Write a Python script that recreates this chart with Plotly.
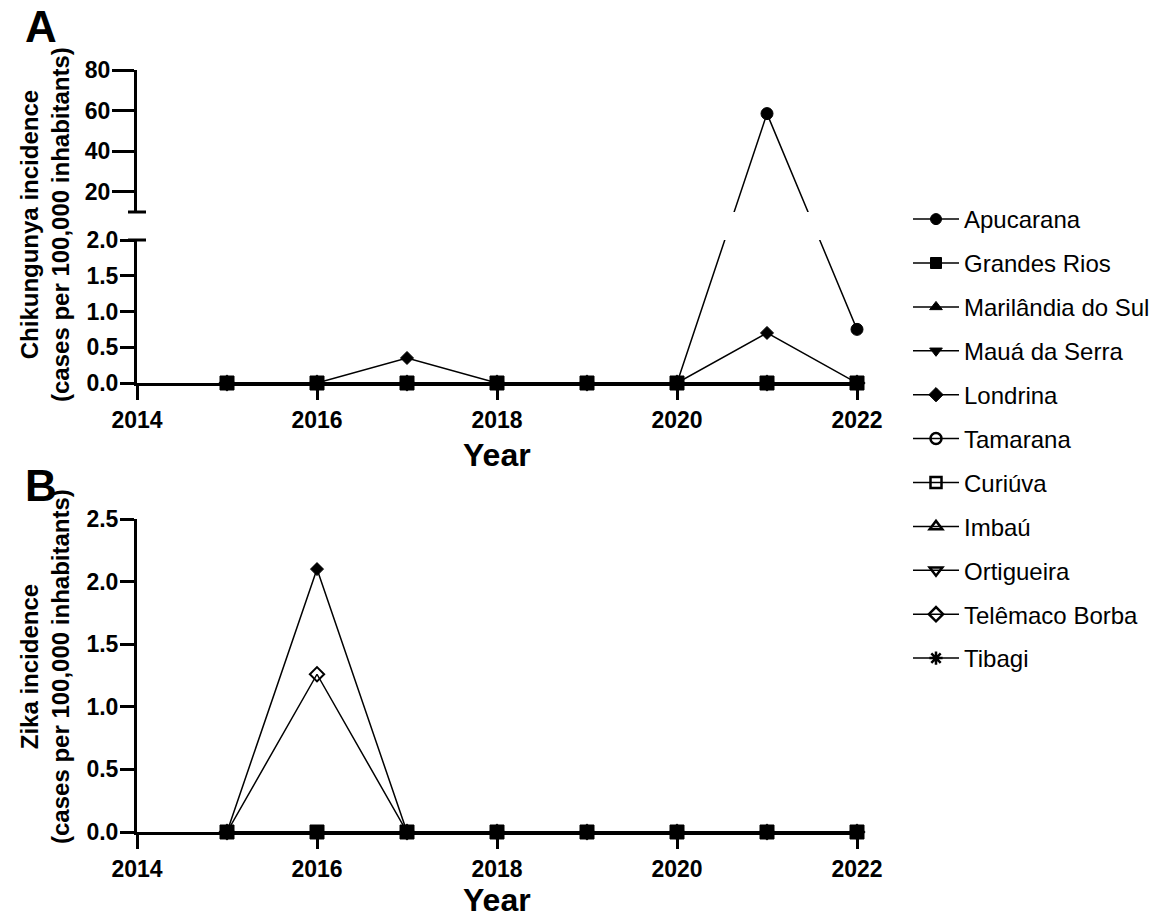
import plotly.graph_objects as go

# ---------------- data ----------------
years = [2015, 2016, 2017, 2018, 2019, 2020, 2021, 2022]
municipalities = ["Apucarana", "Grandes Rios", "Marilândia do Sul", "Mauá da Serra",
                  "Londrina", "Tamarana", "Curiúva", "Imbaú", "Ortigueira",
                  "Telêmaco Borba", "Tibagi"]
chik = {
    "Apucarana":         [0, 0, 0, 0, 0, 0, 58.5, 0.75],
    "Grandes Rios":      [0, 0, 0, 0, 0, 0, 0, 0],
    "Marilândia do Sul": [0, 0, 0, 0, 0, 0, 0, 0],
    "Mauá da Serra":     [0, 0, 0, 0, 0, 0, 0, 0],
    "Londrina":          [0, 0, 0.35, 0, 0, 0, 0.70, 0],
    "Tamarana":          [0, 0, 0, 0, 0, 0, 0, 0],
    "Curiúva":           [0, 0, 0, 0, 0, 0, 0, 0],
    "Imbaú":             [0, 0, 0, 0, 0, 0, 0, 0],
    "Ortigueira":        [0, 0, 0, 0, 0, 0, 0, 0],
    "Telêmaco Borba":    [0, 0, 0, 0, 0, 0, 0, 0],
    "Tibagi":            [0, 0, 0, 0, 0, 0, 0, 0],
}
zika = {
    "Apucarana":         [0, 0, 0, 0, 0, 0, 0, 0],
    "Grandes Rios":      [0, 0, 0, 0, 0, 0, 0, 0],
    "Marilândia do Sul": [0, 0, 0, 0, 0, 0, 0, 0],
    "Mauá da Serra":     [0, 0, 0, 0, 0, 0, 0, 0],
    "Londrina":          [0, 2.10, 0, 0, 0, 0, 0, 0],
    "Tamarana":          [0, 0, 0, 0, 0, 0, 0, 0],
    "Curiúva":           [0, 0, 0, 0, 0, 0, 0, 0],
    "Imbaú":             [0, 0, 0, 0, 0, 0, 0, 0],
    "Ortigueira":        [0, 0, 0, 0, 0, 0, 0, 0],
    "Telêmaco Borba":    [0, 1.26, 0, 0, 0, 0, 0, 0],
    "Tibagi":            [0, 0, 0, 0, 0, 0, 0, 0],
}
x_ticks = [2014, 2016, 2018, 2020, 2022]
upper_ticks = [20, 40, 60, 80]

# ---------------- styles ----------------
symbols = {
    "Apucarana": ("circle", 12), "Grandes Rios": ("square", 14),
    "Marilândia do Sul": ("triangle-up", 11), "Mauá da Serra": ("triangle-down", 11),
    "Londrina": ("diamond", 10), "Tamarana": ("circle-open", 10),
    "Curiúva": ("square-open", 10), "Imbaú": ("triangle-up-open", 10),
    "Ortigueira": ("triangle-down-open", 10), "Telêmaco Borba": ("diamond-open", 11),
    "Tibagi": ("asterisk-open", 10),
}
LEGEND_MARKER = 11
# draw order: Grandes Rios last so the squares sit on top at zero
draw_order = [m for m in municipalities if m != "Grandes Rios"] + ["Grandes Rios"]

W, H = 1165, 920
FONT = "Liberation Sans, Arial, sans-serif"
x_dom = [137 / W, 857 / W]
lowA_dom = [1 - 383 / H, 1 - 240 / H]; lowA_rng = [0, 2]
upA_dom = [1 - 212 / H, 1 - 70 / H]; upA_rng = [10, 80]
B_dom = [1 - 832 / H, 1 - 519 / H]; B_rng = [0, 2.5]


def to_paper(v):
    if v <= lowA_rng[1]:
        d, r = lowA_dom, lowA_rng
    else:
        d, r = upA_dom, upA_rng
    return d[0] + (v - r[0]) / (r[1] - r[0]) * (d[1] - d[0])


def to_axis(v, d, r):
    """Express value v in the linear extension of a broken-axis segment."""
    p = to_paper(v)
    return r[0] + (p - d[0]) / (d[1] - d[0]) * (r[1] - r[0])


def marker(sym, size):
    return dict(symbol=sym, size=size, color="black", opacity=1,
                line=dict(color="black", width=2 if "open" in sym else 1))


LINE = dict(color="black", width=1.5)
fig = go.Figure()
for m in draw_order:
    sym, size = symbols[m]
    vals = chik[m]
    # lower segment of panel A
    low = [to_axis(v, lowA_dom, lowA_rng) for v in vals]
    low_sizes = [size if v <= lowA_rng[1] else 0 for v in vals]
    fig.add_trace(go.Scatter(
        x=years, y=low, mode="lines+markers", name=m, legendgroup=m,
        showlegend=False, cliponaxis=False, line=LINE,
        marker=dict(marker(sym, size), size=low_sizes),
        xaxis="x", yaxis="y"))
    # upper segment of panel A
    if max(vals) > lowA_rng[1]:
        up = [to_axis(v, upA_dom, upA_rng) for v in vals]
        fig.add_trace(go.Scatter(
            x=years, y=up, mode="lines+markers", name=m, legendgroup=m,
            showlegend=False, cliponaxis=True, line=LINE, marker=marker(sym, size),
            xaxis="x", yaxis="y2"))
    # panel B
    fig.add_trace(go.Scatter(
        x=years, y=zika[m], mode="lines+markers", name=m, legendgroup=m,
        showlegend=False, cliponaxis=False, line=LINE, marker=marker(sym, size),
        xaxis="x2", yaxis="y3"))

# legend entries (smaller symbols, as in the reference key)
for i, m in enumerate(municipalities):
    sym, _ = symbols[m]
    fig.add_trace(go.Scatter(
        x=[None], y=[None], mode="lines+markers", name=m, legendgroup=m,
        legendrank=i + 1, showlegend=True, line=LINE,
        marker=dict(marker(sym, LEGEND_MARKER),
                    line=dict(color="black", width=2.5 if "open" in sym else 1)),
        xaxis="x2", yaxis="y3"))

tickfont = dict(family=FONT, size=23, color="black", weight="bold")
xcommon = dict(range=[2014, 2022], tickvals=x_ticks, domain=x_dom, showline=True,
               linewidth=3, linecolor="black", ticks="outside", ticklen=14,
               tickwidth=3, tickcolor="black", showgrid=False, zeroline=False,
               tickfont=tickfont, automargin=False)
ycommon = dict(showline=True, linewidth=3, linecolor="black", ticks="outside",
               tickwidth=3, tickcolor="black", showgrid=False, zeroline=False,
               tickfont=tickfont, automargin=False, ticklabelstandoff=-3)

fig.update_layout(
    width=W, height=H, margin=dict(l=0, r=0, t=0, b=0, autoexpand=False),
    plot_bgcolor="white", paper_bgcolor="white",
    font=dict(family=FONT, color="black"),
    xaxis=dict(xcommon, anchor="y"),
    yaxis=dict(ycommon, domain=lowA_dom, range=lowA_rng, dtick=0.5,
               tickformat=".1f", ticklen=14, anchor="x"),
    yaxis2=dict(ycommon, domain=upA_dom, range=upA_rng, tickvals=upper_ticks,
                ticklen=22, anchor="x"),
    xaxis2=dict(xcommon, anchor="y3"),
    yaxis3=dict(ycommon, domain=B_dom, range=B_rng, dtick=0.5,
                tickformat=".1f", ticklen=14, anchor="x2"),
    legend=dict(x=908 / W, xanchor="left", y=1 - 197 / H, yanchor="top",
                font=dict(family=FONT, size=24, color="black"),
                tracegroupgap=9.7, itemwidth=46, bgcolor="rgba(0,0,0,0)"),
    showlegend=True,
)

# axis-break caps
cap_half = 9 / W
for yb in (upA_dom[0], lowA_dom[1]):
    fig.add_shape(type="line", xref="paper", yref="paper",
                  x0=x_dom[0] - cap_half, x1=x_dom[0] + cap_half, y0=yb, y1=yb,
                  line=dict(color="black", width=3))

bold = dict(family=FONT, color="black", weight="bold")
x_mid = (x_dom[0] + x_dom[1]) / 2
annots = [
    dict(text="A", x=41 / W, y=1, yanchor="top", font=dict(bold, size=44)),
    dict(text="B", x=41 / W, y=1 - 459 / H, yanchor="top", font=dict(bold, size=44)),
    dict(text="Year", x=x_mid, y=1 - 455 / H, yanchor="middle", font=dict(bold, size=32)),
    dict(text="Year", x=x_mid, y=0, yanchor="bottom", font=dict(bold, size=32)),
    dict(text="Chikungunya incidence<br>(cases per 100,000 inhabitants)",
         x=45 / W, y=1 - 225 / H, yanchor="middle", textangle=-90,
         font=dict(bold, size=24)),
    dict(text="Zika incidence<br>(cases per 100,000 inhabitants)",
         x=45 / W, y=1 - 667 / H, yanchor="middle", textangle=-90,
         font=dict(bold, size=24)),
]
for a in annots:
    fig.add_annotation(xref="paper", yref="paper", showarrow=False,
                       xanchor="center", **a)

fig.write_html("out.html", config={"displayModeBar": False},
               post_script="document.body.style.margin='0';"
                           "document.body.style.overflow='hidden';")
